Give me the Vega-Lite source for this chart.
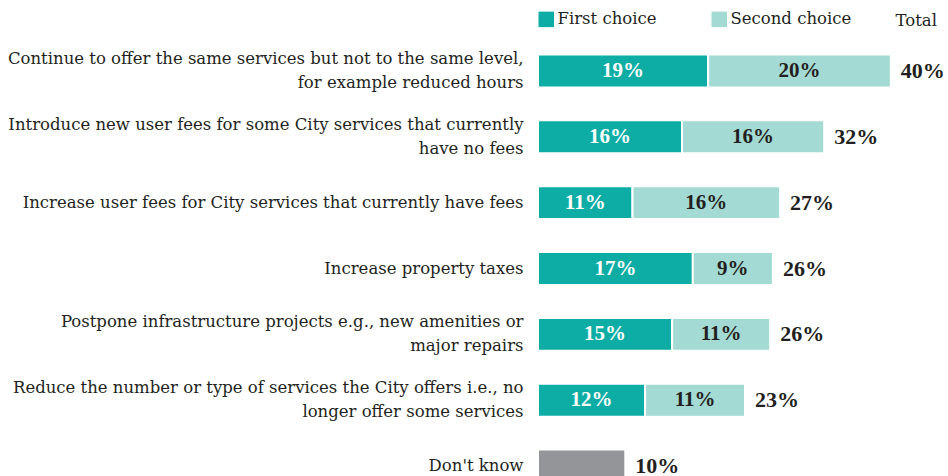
{
  "$schema": "https://vega.github.io/schema/vega-lite/v6.json",
  "autosize": {"type": "none"},
  "width": 405,
  "height": 461,
  "padding": {"left": 538, "top": 38, "right": 5, "bottom": 0},
  "background": "white",
  "config": {"view": {"stroke": null}, "font": "DejaVu Serif"},
  "datasets": {
    "bars": [
      {"q": "Continue to offer the same services but not to the same level,|for example reduced hours", "choice": "First choice", "value": 18.9, "label": "19%"},
      {"q": "Continue to offer the same services but not to the same level,|for example reduced hours", "choice": "Second choice", "value": 20.3, "label": "20%"},
      {"q": "Introduce new user fees for some City services that currently|have no fees", "choice": "First choice", "value": 16.0, "label": "16%"},
      {"q": "Introduce new user fees for some City services that currently|have no fees", "choice": "Second choice", "value": 15.8, "label": "16%"},
      {"q": "Increase user fees for City services that currently have fees", "choice": "First choice", "value": 10.5, "label": "11%"},
      {"q": "Increase user fees for City services that currently have fees", "choice": "Second choice", "value": 16.4, "label": "16%"},
      {"q": "Increase property taxes", "choice": "First choice", "value": 17.2, "label": "17%"},
      {"q": "Increase property taxes", "choice": "Second choice", "value": 8.9, "label": "9%"},
      {"q": "Postpone infrastructure projects e.g., new amenities or|major repairs", "choice": "First choice", "value": 14.9, "label": "15%"},
      {"q": "Postpone infrastructure projects e.g., new amenities or|major repairs", "choice": "Second choice", "value": 10.9, "label": "11%"},
      {"q": "Reduce the number or type of services the City offers i.e., no|longer offer some services", "choice": "First choice", "value": 11.9, "label": "12%"},
      {"q": "Reduce the number or type of services the City offers i.e., no|longer offer some services", "choice": "Second choice", "value": 11.1, "label": "11%"},
      {"q": "Don't know", "choice": "Don't know", "value": 9.7, "label": ""}
    ],
    "totals": [
      {"q": "Continue to offer the same services but not to the same level,|for example reduced hours", "total": 39.2, "label": "40%"},
      {"q": "Introduce new user fees for some City services that currently|have no fees", "total": 31.8, "label": "32%"},
      {"q": "Increase user fees for City services that currently have fees", "total": 26.9, "label": "27%"},
      {"q": "Increase property taxes", "total": 26.1, "label": "26%"},
      {"q": "Postpone infrastructure projects e.g., new amenities or|major repairs", "total": 25.8, "label": "26%"},
      {"q": "Reduce the number or type of services the City offers i.e., no|longer offer some services", "total": 23.0, "label": "23%"},
      {"q": "Don't know", "total": 9.7, "label": "10%"}
    ]
  },
  "encoding": {
    "y": {
      "field": "q",
      "type": "nominal",
      "sort": [
        "Continue to offer the same services but not to the same level,|for example reduced hours",
        "Introduce new user fees for some City services that currently|have no fees",
        "Increase user fees for City services that currently have fees",
        "Increase property taxes",
        "Postpone infrastructure projects e.g., new amenities or|major repairs",
        "Reduce the number or type of services the City offers i.e., no|longer offer some services",
        "Don't know"
      ],
      "scale": {"paddingInner": 0.5, "paddingOuter": 0.25},
      "axis": {
        "title": null,
        "ticks": false,
        "domain": false,
        "labelPadding": 15,
        "labelLimit": 700,
        "labelFont": "DejaVu Serif",
        "labelFontSize": 16.5,
        "labelColor": "#231f20",
        "labelLineHeight": 24,
        "labelOffset": {"condition": {"test": "indexof(datum.value, '|') >= 0", "value": -12}, "value": 0},
        "labelExpr": "split(datum.label, '|')"
      }
    }
  },
  "layer": [
    {
      "data": {"name": "bars"},
      "mark": {"type": "bar", "stroke": "white", "strokeWidth": 2},
      "encoding": {
        "x": {
          "field": "value",
          "type": "quantitative",
          "stack": "zero",
          "scale": {"domain": [0, 45], "nice": false},
          "axis": {
            "orient": "top",
            "labels": false,
            "ticks": false,
            "domain": false,
            "grid": false,
            "title": "Total",
            "titleFont": "DejaVu Serif",
            "titleFontSize": 16.5,
            "titleFontWeight": "normal",
            "titleColor": "#231f20",
            "titleX": 357,
            "titleY": -18,
            "titleAlign": "left",
            "titleBaseline": "middle",
            "titleAnchor": null
          }
        },
        "color": {
          "field": "choice",
          "type": "nominal",
          "scale": {
            "domain": ["First choice", "Second choice", "Don't know"],
            "range": ["#0dada6", "#a3dad3", "#939598"]
          },
          "legend": {
            "values": ["First choice", "Second choice"],
            "title": null,
            "orient": "none",
            "direction": "horizontal",
            "legendX": 0,
            "legendY": -27,
            "symbolType": "square",
            "symbolSize": 240,
            "symbolStrokeWidth": 0,
            "symbolOpacity": 1,
            "labelFont": "DejaVu Serif",
            "labelFontSize": 16.5,
            "labelColor": "#231f20",
            "labelOffset": 3,
            "columnPadding": 54
          }
        },
        "order": {"field": "choice", "type": "nominal"}
      }
    },
    {
      "data": {"name": "bars"},
      "transform": [{"filter": "datum.label != ''"}],
      "mark": {"type": "text", "font": "Liberation Serif", "fontSize": 21, "fontWeight": "bold", "align": "center", "baseline": "middle"},
      "encoding": {
        "x": {"field": "value", "type": "quantitative", "stack": "zero", "bandPosition": 0.5},
        "detail": {"field": "choice"},
        "order": {"field": "choice", "type": "nominal"},
        "text": {"field": "label"},
        "color": {
          "condition": {"test": "datum.choice === 'First choice'", "value": "white"},
          "value": "#231f20"
        }
      }
    },
    {
      "data": {"name": "totals"},
      "mark": {"type": "text", "font": "Liberation Serif", "fontSize": 22, "fontWeight": "bold", "align": "left", "baseline": "middle", "dx": 10, "color": "#231f20"},
      "encoding": {
        "x": {"field": "total", "type": "quantitative"},
        "text": {"field": "label"}
      }
    }
  ]
}
